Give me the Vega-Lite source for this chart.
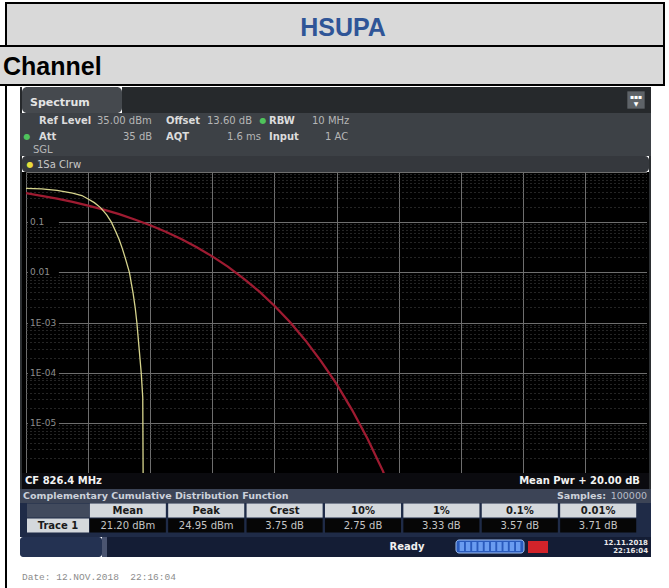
{
"$schema":"https://vega.github.io/schema/vega-lite/v6.json",
"background":"#ffffff",
"padding":{"top":2,"left":0,"right":0,"bottom":0},
"spacing":0,
"config":{"view":{"stroke":null},"concat":{"spacing":0},"font":"DejaVu Sans"},
"vconcat":[
 {"spacing":0,"hconcat":[
   {"width":5,"height":2,"data":{"values":[{}]},"mark":{"type":"point","size":0,"opacity":0,"strokeWidth":0},"encoding":{},"view":{"fill":null}},
   {"width":660,"height":2,"data":{"values":[{}]},"mark":{"type":"point","size":0,"opacity":0,"strokeWidth":0},"encoding":{},"view":{"fill":"#000000"}}
 ]},
 {"spacing":0,"hconcat":[
   {"width":5,"height":41,"data":{"values":[{}]},"mark":{"type":"point","size":0,"opacity":0,"strokeWidth":0},"encoding":{},"view":{"fill":null}},
   {"width":2,"height":41,"data":{"values":[{}]},"mark":{"type":"point","size":0,"opacity":0,"strokeWidth":0},"encoding":{},"view":{"fill":"#000000"}},
   {"width":656,"height":41,"view":{"fill":"#d9d9d9"},"data":{"values":[{"t":"HSUPA"}]},"mark":{"type":"text","font":"Liberation Sans","fontWeight":"bold","fontSize":25,"color":"#2f5597","baseline":"middle","align":"center","dx":8,"dy":3},"encoding":{"text":{"field":"t"}}},
   {"width":2,"height":41,"data":{"values":[{}]},"mark":{"type":"point","size":0,"opacity":0,"strokeWidth":0},"encoding":{},"view":{"fill":"#000000"}}
 ]},
 {"width":665,"height":2,"data":{"values":[{}]},"mark":{"type":"point","size":0,"opacity":0,"strokeWidth":0},"encoding":{},"view":{"fill":"#000000"}},
 {"spacing":0,"hconcat":[
   {"width":663,"height":37,"view":{"fill":"#d9d9d9"},"data":{"values":[{"t":"Channel"}]},"mark":{"type":"text","font":"Liberation Sans","fontWeight":"bold","fontSize":25,"color":"#000000","baseline":"middle","align":"left","dx":3,"dy":1},"encoding":{"x":{"datum":0,"type":"quantitative","scale":{"domain":[0,1]},"axis":null},"text":{"field":"t"}}},
   {"width":2,"height":37,"data":{"values":[{}]},"mark":{"type":"point","size":0,"opacity":0,"strokeWidth":0},"encoding":{},"view":{"fill":"#000000"}}
 ]},
 {"width":665,"height":2,"data":{"values":[{}]},"mark":{"type":"point","size":0,"opacity":0,"strokeWidth":0},"encoding":{},"view":{"fill":"#000000"}},
 {"spacing":0,"hconcat":[
   {"spacing":0,"hconcat":[
     {"width":5,"height":502,"data":{"values":[{}]},"mark":{"type":"point","size":0,"opacity":0,"strokeWidth":0},"encoding":{},"view":{"fill":null}},
     {"width":2,"height":502,"data":{"values":[{}]},"mark":{"type":"point","size":0,"opacity":0,"strokeWidth":0},"encoding":{},"view":{"fill":"#000000"}},
     {"width":13,"height":502,"data":{"values":[{}]},"mark":{"type":"point","size":0,"opacity":0,"strokeWidth":0},"encoding":{},"view":{"fill":null}}
   ]},
   {"spacing":0,"vconcat":[
     {"width":631,"height":1,"data":{"values":[{}]},"mark":{"type":"point","size":0,"opacity":0,"strokeWidth":0},"encoding":{},"view":{"fill":null}},
     {"spacing":0,"hconcat":[
       {"width":2,"height":26,"data":{"values":[{}]},"mark":{"type":"point","size":0,"opacity":0,"strokeWidth":0},"encoding":{},"view":{"fill":"#26292c"}},
       {"width":100,"height":26,"view":{"fill":"#45494e","cornerRadius":5},"data":{"values":[{"t":"Spectrum"}]},"mark":{"type":"text","fontWeight":"bold","fontSize":11,"color":"#e4e4e4","align":"left","baseline":"middle","dx":8,"dy":3},"encoding":{"x":{"datum":0,"type":"quantitative","scale":{"domain":[0,1]},"axis":null},"text":{"field":"t"}}},
       {"width":503,"height":26,"data":{"values":[{}]},"mark":{"type":"point","size":0,"opacity":0,"strokeWidth":0},"encoding":{},"view":{"fill":"#26292c"}},
       {"width":22,"height":26,"view":{"fill":"#26292c"},"data":{"values":[{"g":"icon"}]},"layer":[
         {"mark":{"type":"point","shape":"square","size":300,"filled":true,"color":"#5e6368","opacity":1,"strokeWidth":0},"encoding":{}},
         {"mark":{"type":"text","text":"▪▪▪","fontSize":6,"color":"#ffffff","dy":-3},"encoding":{}},
         {"mark":{"type":"text","text":"▼","fontSize":6,"color":"#ffffff","dy":4},"encoding":{}}
       ]},
       {"width":4,"height":26,"data":{"values":[{}]},"mark":{"type":"point","size":0,"opacity":0,"strokeWidth":0},"encoding":{},"view":{"fill":"#26292c"}}
     ]},
     {"width":631,"height":43,"view":{"fill":"#3d4146"},"layer":[
       {"data":{"values":[{"t":"Ref Level","c":3,"l":1},{"t":"Offset","c":6,"l":1},{"t":"RBW","c":10,"l":1},{"t":"Att","c":3,"l":2},{"t":"AQT","c":6,"l":2},{"t":"Input","c":10,"l":2}]},
        "mark":{"type":"text","align":"left","baseline":"middle","fontWeight":"bold","fontSize":10,"color":"#dcdcdc"},
        "encoding":{"x":{"field":"c","type":"quantitative","scale":{"domain":[1,2,3,4,5,6,7,8,9,10,11,12],"range":[7,13,19,77,103,146,187,207,243,249,292,305],"nice":false,"zero":false},"axis":null},"y":{"field":"l","type":"quantitative","scale":{"domain":[1,2,3],"range":[8,24,37],"nice":false,"zero":false},"axis":null},"text":{"field":"t"}}},
       {"data":{"values":[{"t":"35.00 dBm","c":4,"l":1},{"t":"13.60 dB","c":7,"l":1},{"t":"10 MHz","c":11,"l":1},{"t":"35 dB","c":5,"l":2},{"t":"1.6 ms","c":8,"l":2},{"t":"1 AC","c":12,"l":2},{"t":"SGL","c":2,"l":3}]},
        "mark":{"type":"text","align":"left","baseline":"middle","fontSize":10,"color":"#b6b6b6"},
        "encoding":{"x":{"field":"c","type":"quantitative","scale":{"domain":[1,2,3,4,5,6,7,8,9,10,11,12],"range":[7,13,19,77,103,146,187,207,243,249,292,305],"nice":false,"zero":false},"axis":null},"y":{"field":"l","type":"quantitative","scale":{"domain":[1,2,3],"range":[8,24,37],"nice":false,"zero":false},"axis":null},"text":{"field":"t"}}},
       {"data":{"values":[{"c":9,"l":1},{"c":1,"l":2}]},
        "mark":{"type":"text","text":"●","align":"center","baseline":"middle","fontSize":8,"color":"#4fc35c"},
        "encoding":{"x":{"field":"c","type":"quantitative","scale":{"domain":[1,2,3,4,5,6,7,8,9,10,11,12],"range":[7,13,19,77,103,146,187,207,243,249,292,305],"nice":false,"zero":false},"axis":null},"y":{"field":"l","type":"quantitative","scale":{"domain":[1,2,3],"range":[8,24,37],"nice":false,"zero":false},"axis":null}}}
     ]},
     {"spacing":0,"hconcat":[
       {"width":2,"height":16,"data":{"values":[{}]},"mark":{"type":"point","size":0,"opacity":0,"strokeWidth":0},"encoding":{},"view":{"fill":"#2b2e31"}},
       {"width":627,"height":16,"view":{"fill":"#35383d","cornerRadius":4},"data":{"values":[{"t":"1Sa Clrw"}]},"layer":[
         {"mark":{"type":"text","text":"●","align":"center","baseline":"middle","fontSize":8,"color":"#e6dc3c","dx":8,"dy":1},"encoding":{"x":{"datum":0,"type":"quantitative","scale":{"domain":[0,1]},"axis":null}}},
         {"mark":{"type":"text","align":"left","baseline":"middle","fontSize":10,"color":"#c8c8c8","dx":15,"dy":1},"encoding":{"x":{"datum":0,"type":"quantitative","scale":{"domain":[0,1]},"axis":null},"text":{"field":"t"}}}
       ]},
       {"width":2,"height":16,"data":{"values":[{}]},"mark":{"type":"point","size":0,"opacity":0,"strokeWidth":0},"encoding":{},"view":{"fill":"#2b2e31"}}
     ]},
     {"spacing":0,"hconcat":[
       {"width":2,"height":301,"data":{"values":[{}]},"mark":{"type":"point","size":0,"opacity":0,"strokeWidth":0},"encoding":{},"view":{"fill":"#2b2e31"}},
       {"width":4,"height":301,"data":{"values":[{}]},"mark":{"type":"point","size":0,"opacity":0,"strokeWidth":0},"encoding":{},"view":{"fill":"#000000"}},
       {"width":621,"height":301,"view":{"fill":"#000000"},"layer":[
         {"data":{"values":[{"db":0,"p":0.378},{"db":0.5,"p":0.336},{"db":1,"p":0.294},{"db":1.5,"p":0.253},{"db":2,"p":0.214},{"db":2.5,"p":0.177},{"db":3,"p":0.144},{"db":3.5,"p":0.113},{"db":4,"p":0.087},{"db":4.5,"p":0.0645},{"db":5,"p":0.0461},{"db":5.5,"p":0.0317},{"db":6,"p":0.0208},{"db":6.5,"p":0.013},{"db":7,"p":0.0076},{"db":7.5,"p":0.0042},{"db":8,"p":0.00216},{"db":8.5,"p":0.00102},{"db":9,"p":0.00044},{"db":9.5,"p":0.00017},{"db":10,"p":0.00006},{"db":10.5,"p":0.0000182},{"db":11,"p":0.0000048},{"db":11.5,"p":0.00000108},{"db":11.8,"p":0.0000003}]},
          "mark":{"type":"line","color":"#9e1b31","strokeWidth":2.3,"clip":true},
          "encoding":{
            "x":{"field":"db","type":"quantitative","scale":{"domain":[0,20],"nice":false,"zero":false},"axis":{"values":[0,2,4,6,8,10,12,14,16,18,20],"grid":true,"gridColor":"#6e6e6e","gridWidth":1,"labels":false,"ticks":false,"domain":false,"title":null}},
            "y":{"field":"p","type":"quantitative","scale":{"type":"log","domain":[0.000001,1],"nice":false},"axis":{"values":[1e-6,2e-6,3e-6,4e-6,5e-6,6e-6,7e-6,8e-6,9e-6,1e-5,2e-5,3e-5,4e-5,5e-5,6e-5,7e-5,8e-5,9e-5,1e-4,2e-4,3e-4,4e-4,5e-4,6e-4,7e-4,8e-4,9e-4,0.001,0.002,0.003,0.004,0.005,0.006,0.007,0.008,0.009,0.01,0.02,0.03,0.04,0.05,0.06,0.07,0.08,0.09,0.1,0.2,0.3,0.4,0.5,0.6,0.7,0.8,0.9,1],"grid":true,"gridColor":{"condition":{"test":"abs(log(datum.value)/LN10 - round(log(datum.value)/LN10)) < 0.0001","value":"#6e6e6e"},"value":"#4a4a4a"},"gridDash":{"condition":{"test":"abs(log(datum.value)/LN10 - round(log(datum.value)/LN10)) < 0.0001","value":[]},"value":[1,3]},"labels":false,"ticks":false,"domain":false,"title":null}}
          }},
         {"data":{"values":[{"db":0,"p":0.47},{"db":0.5,"p":0.46},{"db":1,"p":0.43},{"db":1.5,"p":0.38},{"db":1.8,"p":0.34},{"db":2,"p":0.29},{"db":2.2,"p":0.245},{"db":2.4,"p":0.195},{"db":2.6,"p":0.14},{"db":2.75,"p":0.1},{"db":2.9,"p":0.063},{"db":3,"p":0.045},{"db":3.1,"p":0.03},{"db":3.2,"p":0.019},{"db":3.33,"p":0.01},{"db":3.45,"p":0.0038},{"db":3.52,"p":0.0019},{"db":3.57,"p":0.001},{"db":3.64,"p":0.00032},{"db":3.71,"p":0.0001},{"db":3.76,"p":0.000032},{"db":3.78,"p":0.0000001}]},
          "mark":{"type":"line","color":"#d6d48c","strokeWidth":1.3,"clip":true},
          "encoding":{"x":{"field":"db","type":"quantitative"},"y":{"field":"p","type":"quantitative"}}},
         {"data":{"values":[{"p":0.1,"label":"0.1"},{"p":0.01,"label":"0.01"},{"p":0.001,"label":"1E-03"},{"p":0.0001,"label":"1E-04"},{"p":0.00001,"label":"1E-05"}]},
          "layer":[
            {"mark":{"type":"point","shape":"M-1,-0.3H1V0.3H-1Z","size":961,"filled":true,"color":"#000000","opacity":1,"strokeWidth":0},"encoding":{"x":{"datum":0.56,"type":"quantitative"},"y":{"field":"p","type":"quantitative"}}},
            {"mark":{"type":"text","align":"left","baseline":"middle","dx":4,"fontSize":9,"color":"#8e8e8e"},"encoding":{"x":{"datum":0,"type":"quantitative"},"y":{"field":"p","type":"quantitative"},"text":{"field":"label"}}}
          ]}
       ]},
       {"width":2,"height":301,"data":{"values":[{}]},"mark":{"type":"point","size":0,"opacity":0,"strokeWidth":0},"encoding":{},"view":{"fill":"#000000"}},
       {"width":2,"height":301,"data":{"values":[{}]},"mark":{"type":"point","size":0,"opacity":0,"strokeWidth":0},"encoding":{},"view":{"fill":"#2b2e31"}}
     ]},
     {"spacing":0,"hconcat":[
       {"width":2,"height":16,"data":{"values":[{}]},"mark":{"type":"point","size":0,"opacity":0,"strokeWidth":0},"encoding":{},"view":{"fill":"#2b2e31"}},
       {"width":627,"height":16,"view":{"fill":"#0b0b0f"},"data":{"values":[{"a":"CF 826.4 MHz","b":"Mean Pwr + 20.00 dB"}]},"layer":[
         {"mark":{"type":"text","align":"left","baseline":"middle","fontWeight":"bold","fontSize":10,"color":"#f2f2f2","dx":3},"encoding":{"x":{"datum":0,"type":"quantitative","scale":{"domain":[0,1]},"axis":null},"text":{"field":"a"}}},
         {"mark":{"type":"text","align":"right","baseline":"middle","fontWeight":"bold","fontSize":10,"color":"#f2f2f2","dx":-9},"encoding":{"x":{"datum":1,"type":"quantitative","scale":{"domain":[0,1]},"axis":null},"text":{"field":"b"}}}
       ]},
       {"width":2,"height":16,"data":{"values":[{}]},"mark":{"type":"point","size":0,"opacity":0,"strokeWidth":0},"encoding":{},"view":{"fill":"#2b2e31"}}
     ]},
     {"width":631,"height":14,"view":{"fill":"#3c4456"},"data":{"values":[{"a":"Complementary Cumulative Distribution Function","b":"Samples:","c":"100000"}]},"layer":[
       {"mark":{"type":"text","align":"left","baseline":"middle","fontWeight":"bold","fontSize":9.5,"color":"#ccd1da","dx":3},"encoding":{"x":{"datum":0,"type":"quantitative","scale":{"domain":[0,1]},"axis":null},"text":{"field":"a"}}},
       {"mark":{"type":"text","align":"right","baseline":"middle","fontWeight":"bold","fontSize":9.5,"color":"#ccd1da","dx":-45},"encoding":{"x":{"datum":1,"type":"quantitative","scale":{"domain":[0,1]},"axis":null},"text":{"field":"b"}}},
       {"mark":{"type":"text","align":"right","baseline":"middle","fontSize":9.5,"color":"#b8bdc6","dx":-4},"encoding":{"x":{"datum":1,"type":"quantitative","scale":{"domain":[0,1]},"axis":null},"text":{"field":"c"}}}
     ]},
     {"spacing":0,"hconcat":[
       {"width":7,"height":30,"data":{"values":[{}]},"mark":{"type":"point","size":0,"opacity":0,"strokeWidth":0},"encoding":{},"view":{"fill":"#1f2b47"}},
       {"width":62,"height":30,"view":{"fill":"#1f2b47"},"data":{"values":[{"row":"h","t":""},{"row":"v","t":"Trace 1"}]},"layer":[
         {"transform":[{"filter":{"field":"row","equal":"h"}}],"mark":{"type":"rect","fill":"#414a5d"},"encoding":{"x":{"datum":"T","type":"nominal","scale":{"paddingInner":0,"paddingOuter":0},"axis":null},"y":{"field":"row","type":"nominal","scale":{"domain":["h","v"],"paddingInner":0.08,"paddingOuter":0.04},"axis":null}}},
         {"transform":[{"filter":{"field":"row","equal":"v"}}],"mark":{"type":"rect","fill":"#d4d8dc"},"encoding":{"x":{"datum":"T","type":"nominal"},"y":{"field":"row","type":"nominal"}}},
         {"transform":[{"filter":{"field":"row","equal":"v"}}],"mark":{"type":"text","fontWeight":"bold","fontSize":10,"color":"#1a1a1a","baseline":"middle"},"encoding":{"x":{"datum":"T","type":"nominal"},"y":{"field":"row","type":"nominal"},"text":{"field":"t"}}}
       ]},
       {"width":548,"height":30,"view":{"fill":"#1f2b47"},"data":{"values":[
         {"col":"Mean","row":"h","t":"Mean"},{"col":"Mean","row":"v","t":"21.20 dBm"},
         {"col":"Peak","row":"h","t":"Peak"},{"col":"Peak","row":"v","t":"24.95 dBm"},
         {"col":"Crest","row":"h","t":"Crest"},{"col":"Crest","row":"v","t":"3.75 dB"},
         {"col":"10%","row":"h","t":"10%"},{"col":"10%","row":"v","t":"2.75 dB"},
         {"col":"1%","row":"h","t":"1%"},{"col":"1%","row":"v","t":"3.33 dB"},
         {"col":"0.1%","row":"h","t":"0.1%"},{"col":"0.1%","row":"v","t":"3.57 dB"},
         {"col":"0.01%","row":"h","t":"0.01%"},{"col":"0.01%","row":"v","t":"3.71 dB"}]},
        "layer":[
         {"transform":[{"filter":{"field":"row","equal":"h"}}],"mark":{"type":"rect","fill":"#d4d8dc"},"encoding":{"x":{"field":"col","type":"nominal","sort":null,"scale":{"domain":["Mean","Peak","Crest","10%","1%","0.1%","0.01%"],"paddingInner":0.03,"paddingOuter":0.01},"axis":null},"y":{"field":"row","type":"nominal","scale":{"domain":["h","v"],"paddingInner":0.08,"paddingOuter":0.04},"axis":null}}},
         {"transform":[{"filter":{"field":"row","equal":"v"}}],"mark":{"type":"rect","fill":"#060606"},"encoding":{"x":{"field":"col","type":"nominal"},"y":{"field":"row","type":"nominal"}}},
         {"transform":[{"filter":{"field":"row","equal":"h"}}],"mark":{"type":"text","fontWeight":"bold","fontSize":10,"color":"#1a1a1a","baseline":"middle"},"encoding":{"x":{"field":"col","type":"nominal"},"y":{"field":"row","type":"nominal"},"text":{"field":"t"}}},
         {"transform":[{"filter":{"field":"row","equal":"v"}}],"mark":{"type":"text","fontSize":10,"color":"#c4c4c4","baseline":"middle"},"encoding":{"x":{"field":"col","type":"nominal"},"y":{"field":"row","type":"nominal"},"text":{"field":"t"}}}
       ]},
       {"width":14,"height":30,"data":{"values":[{}]},"mark":{"type":"point","size":0,"opacity":0,"strokeWidth":0},"encoding":{},"view":{"fill":"#1f2b47"}}
     ]},
     {"width":631,"height":4,"data":{"values":[{}]},"mark":{"type":"point","size":0,"opacity":0,"strokeWidth":0},"encoding":{},"view":{"fill":"#1f2b47"}},
     {"spacing":0,"hconcat":[
       {"width":82,"height":20,"data":{"values":[{}]},"mark":{"type":"point","size":0,"opacity":0,"strokeWidth":0},"encoding":{},"view":{"fill":"#243252","cornerRadius":3}},
       {"width":5,"height":20,"data":{"values":[{}]},"mark":{"type":"point","size":0,"opacity":0,"strokeWidth":0},"encoding":{},"view":{"fill":"#4a5470"}},
       {"width":544,"height":20,"view":{"fill":"#141d35"},"resolve":{"scale":{"x":"independent","y":"independent"}},"layer":[
         {"data":{"values":[{"t":"Ready"}]},"mark":{"type":"text","fontWeight":"bold","fontSize":10,"color":"#f0f0f0","align":"center","baseline":"middle"},"encoding":{"x":{"datum":0.5515,"type":"quantitative","scale":{"domain":[0,1]},"axis":null},"text":{"field":"t"}}},
         {"data":{"values":[{"k":"sweep"}]},"mark":{"type":"rect","fill":"#2a5bbd","stroke":"#9dbff3","strokeWidth":1,"cornerRadius":3},"encoding":{"x":{"field":"k","type":"nominal","scale":{"range":[349,417],"paddingInner":0,"paddingOuter":0},"axis":null},"y":{"field":"k","type":"nominal","scale":{"range":[3,16],"paddingInner":0,"paddingOuter":0},"axis":null}}},
         {"data":{"values":[{"s":1},{"s":2},{"s":3},{"s":4},{"s":5},{"s":6},{"s":7},{"s":8},{"s":9},{"s":10}]},"mark":{"type":"rect","fill":"#6a9cf0"},"encoding":{"x":{"field":"s","type":"ordinal","scale":{"range":[352,414],"paddingInner":0.3,"paddingOuter":0.1},"axis":null},"y":{"datum":"seg","type":"nominal","scale":{"range":[5,14],"paddingInner":0,"paddingOuter":0},"axis":null}}},
         {"data":{"values":[{"k":"err"}]},"mark":{"type":"rect","fill":"#d2232a"},"encoding":{"x":{"field":"k","type":"nominal","scale":{"range":[421,441],"paddingInner":0,"paddingOuter":0},"axis":null},"y":{"field":"k","type":"nominal","scale":{"range":[4,16],"paddingInner":0,"paddingOuter":0},"axis":null}}},
         {"data":{"values":[{"d":"12.11.2018"}]},"mark":{"type":"text","fontWeight":"bold","fontSize":7,"color":"#e8e8e8","align":"right","baseline":"middle","dy":-4},"encoding":{"x":{"datum":0.9945,"type":"quantitative","scale":{"domain":[0,1]},"axis":null},"text":{"field":"d"}}},
         {"data":{"values":[{"d":"22:16:04"}]},"mark":{"type":"text","fontWeight":"bold","fontSize":7,"color":"#e8e8e8","align":"right","baseline":"middle","dy":4},"encoding":{"x":{"datum":0.9945,"type":"quantitative","scale":{"domain":[0,1]},"axis":null},"text":{"field":"d"}}}
       ]}
     ]},
     {"width":631,"height":31,"data":{"values":[{"t":"Date: 12.NOV.2018 \u00a022:16:04"}]},"mark":{"type":"text","font":"Liberation Mono","fontSize":9.5,"color":"#8c8c8c","align":"left","baseline":"middle","dx":2,"dy":4.5},"encoding":{"x":{"datum":0,"type":"quantitative","scale":{"domain":[0,1]},"axis":null},"text":{"field":"t"}}}
   ]},
   {"width":18,"height":502,"data":{"values":[{}]},"mark":{"type":"point","size":0,"opacity":0,"strokeWidth":0},"encoding":{},"view":{"fill":null}}
 ]}
]
}
